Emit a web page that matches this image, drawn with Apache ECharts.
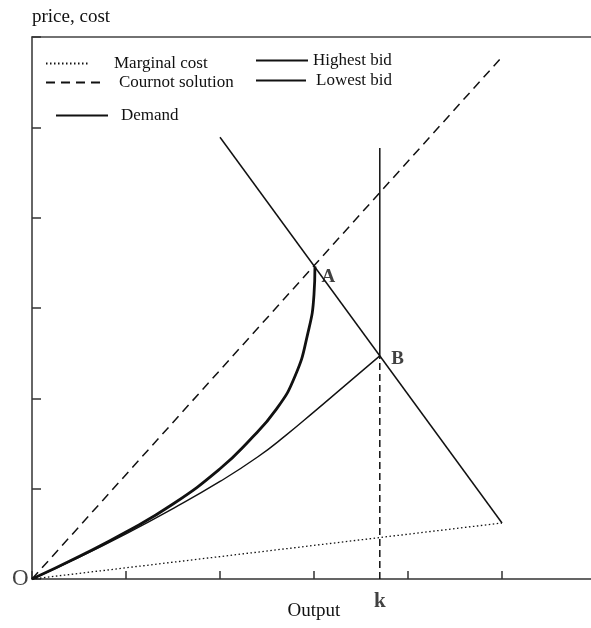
<!DOCTYPE html>
<html>
<head>
<meta charset="utf-8">
<script src="https://cdn.jsdelivr.net/npm/echarts@6/dist/echarts.min.js"></script>
<style>
  html, body { margin: 0; padding: 0; background: #fff; }
  #chart { width: 591px; height: 628px; }
</style>
</head>
<body>
<div id="chart"></div>
<script>
// Output (x) and price/cost (y) coordinates of each curve
const marginalCost = [[0, 0], [5.0, 0.62]];
const cournot = [[0, 0], [5.0, 5.78]];
const demand = [[2.0, 4.89], [5.0, 0.62]];
const highestBid = [
  [0, 0], [0.5, 0.25], [1.0, 0.52], [1.5, 0.83], [2.0, 1.22], [2.3, 1.52],
  [2.6, 1.88], [2.8, 2.25], [2.93, 2.7], [3.0, 3.15], [3.01, 3.46]
];
const lowestBid = [
  [0, 0], [0.5, 0.24], [1.0, 0.5], [1.5, 0.78], [2.0, 1.08], [2.4, 1.35],
  [2.7, 1.59], [3.0, 1.85], [3.35, 2.16], [3.7, 2.47]
];
const capacityK = 3.7;
const capacityTop = 4.77;
const capacityAtB = 2.47;
const capacityUpper = [[capacityK, capacityAtB], [capacityK, capacityTop]];
const capacityLower = [[capacityK, 0], [capacityK, capacityAtB]];

// Named points: origin O, intersections A and B, capacity k on the output axis
const pointNames = ['O', 'A', 'B', 'k'];
const pointCoords = [[0, 0], [3.01, 3.46], [3.7, 2.47], [capacityK, 0]];

const xTicks = [0, 6, 1];   // min, max, interval
const yTicks = [0, 6, 1];

const FONT = 'Liberation Serif';
const INK = '#111';

const pointLabels = {
  O: { position: 'left', distance: 3, fontSize: 23, fontWeight: 'normal' },
  A: { position: 'right', distance: 6, offset: [0, 11], fontSize: 19, fontWeight: 'bold' },
  B: { position: 'right', distance: 11, offset: [0, 3], fontSize: 19, fontWeight: 'bold' },
  k: { position: 'bottom', distance: 12, fontSize: 21, fontWeight: 'bold' }
};

function legendBox(name, left, top, width, pad) {
  return {
    data: [name], left: left, top: top, itemWidth: width, itemHeight: 10,
    padding: 0, selectedMode: false,
    itemStyle: { color: 'transparent', borderColor: 'transparent', borderWidth: 0, opacity: 0 },
    textStyle: { fontFamily: FONT, fontSize: 17, color: INK, padding: [0, 0, 0, pad] }
  };
}

const chart = echarts.init(document.getElementById('chart'));
chart.setOption({
  animation: false,
  backgroundColor: '#fff',
  grid: { left: 32, top: 37, right: -5, bottom: 49, containLabel: false, outerBoundsMode: 'none' },
  legend: [
    legendBox('Marginal cost', 45, 55, 43, 20),
    legendBox('Cournot solution', 45, 74, 55, 13),
    legendBox('Demand', 55, 107, 52, 8),
    legendBox('Highest bid', 255, 52, 52, 0),
    legendBox('Lowest bid', 255, 72, 50, 5)
  ],
  xAxis: [{
    type: 'value', min: xTicks[0], max: xTicks[1], interval: xTicks[2],
    name: 'Output', nameLocation: 'middle', nameGap: 23,
    nameTextStyle: { fontFamily: FONT, fontSize: 19, color: INK },
    axisLine: { show: true, onZero: false, lineStyle: { color: '#333', width: 1.5 } },
    axisTick: { show: true, inside: true, length: 8, lineStyle: { color: '#333', width: 1.5 } },
    axisLabel: { show: false },
    splitLine: { show: false }
  }, {
    type: 'value', position: 'top', min: xTicks[0], max: xTicks[1], interval: xTicks[2],
    axisLine: { show: true, onZero: false, lineStyle: { color: '#444', width: 1.5 } },
    axisTick: { show: false }, axisLabel: { show: false }, splitLine: { show: false }
  }],
  yAxis: {
    type: 'value', min: yTicks[0], max: yTicks[1], interval: yTicks[2],
    name: 'price, cost', nameLocation: 'end', nameGap: 20,
    nameTextStyle: { fontFamily: FONT, fontSize: 19, color: INK, align: 'left', verticalAlign: 'middle' },
    axisLine: { show: true, onZero: false, lineStyle: { color: '#333', width: 1.5 } },
    axisTick: { show: true, inside: true, length: 9, lineStyle: { color: '#333', width: 1.5 } },
    axisLabel: { show: false },
    splitLine: { show: false }
  },
  series: [
    {
      name: 'Marginal cost', type: 'line', data: marginalCost, symbol: 'none',
      lineStyle: { color: INK, width: 1.3, type: [1.5, 2.5] }
    },
    {
      name: 'Cournot solution', type: 'line', data: cournot, symbol: 'none',
      lineStyle: { color: INK, width: 1.5, type: [9, 6] }
    },
    {
      name: 'Demand', type: 'line', data: demand, symbol: 'none',
      lineStyle: { color: INK, width: 1.5 }
    },
    {
      name: 'Highest bid', type: 'line', data: highestBid, symbol: 'none',
      smooth: true,
      lineStyle: { color: INK, width: 2.8 }
    },
    {
      name: 'Lowest bid', type: 'line', data: lowestBid, symbol: 'none',
      smooth: true,
      lineStyle: { color: INK, width: 1.4 }
    },
    {
      name: 'capacity', type: 'line', data: capacityUpper, symbol: 'none',
      lineStyle: { color: INK, width: 1.5 }
    },
    {
      name: 'capacity below B', type: 'line', data: capacityLower, symbol: 'none',
      lineStyle: { color: INK, width: 1.5, type: [7, 4] }
    },
    {
      name: 'points', type: 'scatter', symbolSize: 1, silent: true,
      itemStyle: { color: 'transparent' },
      data: pointNames.map((n, i) => ({
        value: pointCoords[i],
        label: Object.assign({ show: true, formatter: n, fontFamily: FONT, color: INK }, pointLabels[n])
      }))
    }
  ]
});
</script>
</body>
</html>
